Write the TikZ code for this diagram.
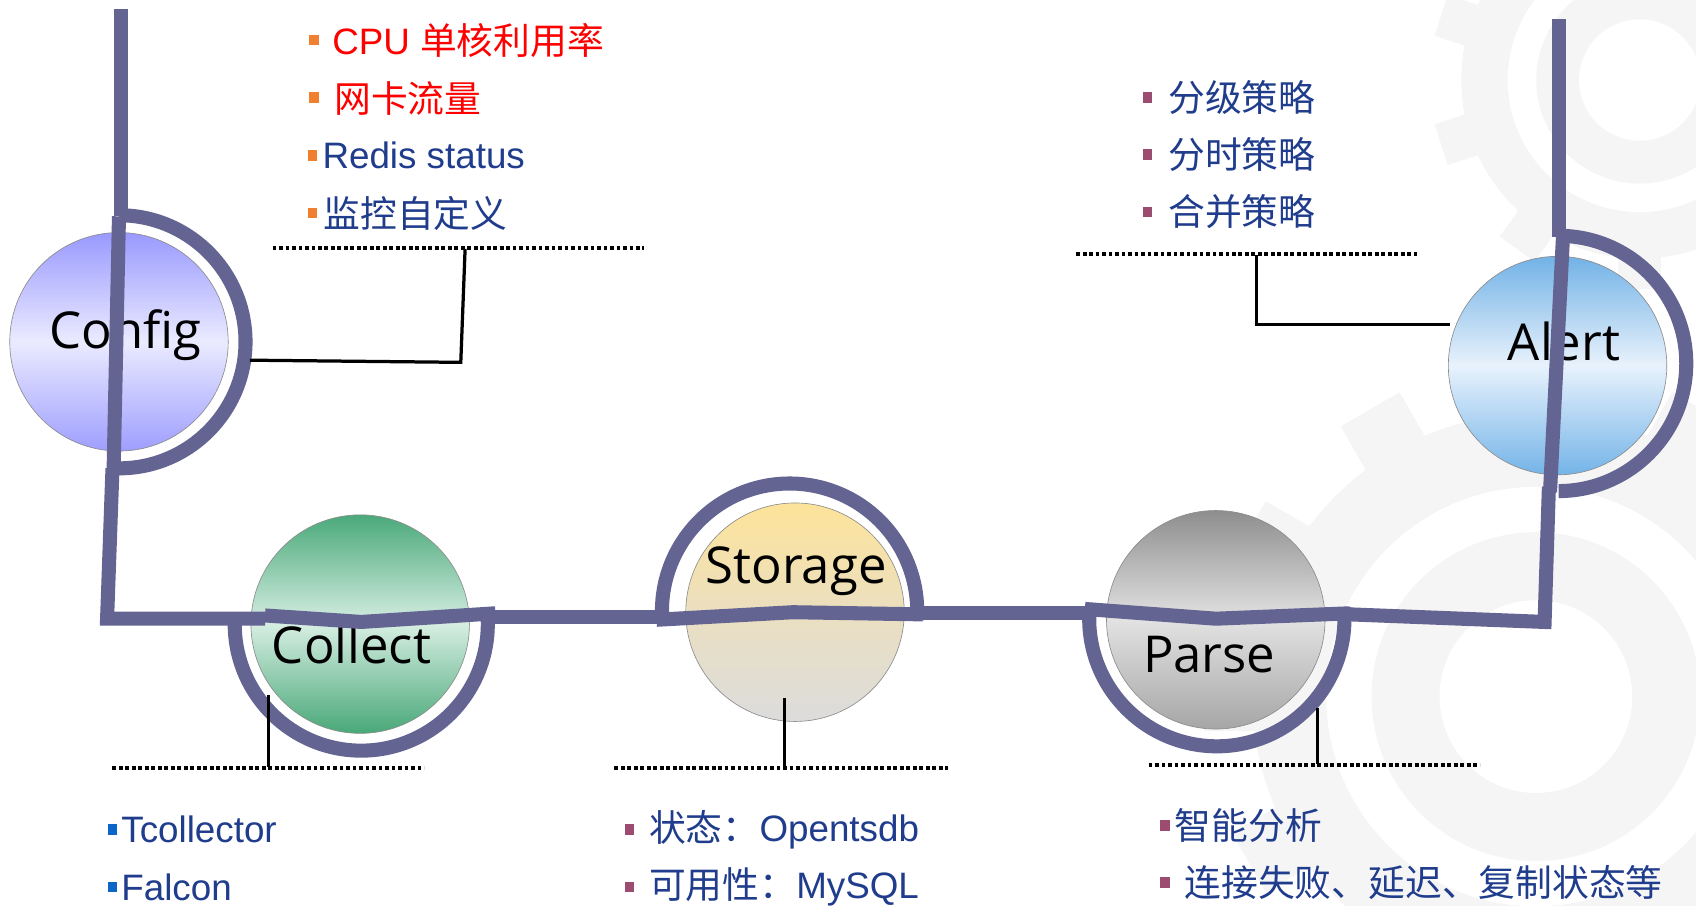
\documentclass[tikz,border=0pt]{standalone}
\usepackage{fontspec}
\setmainfont{Liberation Sans}
\newfontfamily\cjk{Noto Sans CJK SC}
\newfontfamily\lab{Open Sans}
\newfontfamily\lat{Liberation Sans}
\definecolor{pipec}{HTML}{646492}
\definecolor{txtblue}{HTML}{203C8C}
\definecolor{bulor}{HTML}{F0802F}
\definecolor{bulpu}{HTML}{9C4C70}
\definecolor{bulbl}{HTML}{0C66C8}
\definecolor{gearc}{HTML}{F5F5F5}
\newcommand\mygear[3]{%
\begin{scope}[shift={#1}]
 \fill[gearc] (0,0) circle[radius=#2];
 \foreach \k in {1,...,#3}{\fill[gearc, rotate=360/#3*\k] (-0.12*#2,#2-4) rectangle (0.12*#2,1.17*#2);}
 \fill[white] (0,0) circle[radius=0.74*#2];
 \fill[gearc] (0,0) circle[radius=0.58*#2];
 \fill[white] (0,0) circle[radius=0.34*#2];
\end{scope}}
\begin{document}
\begin{tikzpicture}[x=1pt,y=-1pt,
  ball/.style={circle, minimum size=202pt, inner sep=0pt, draw=black!45, line width=0.6pt},
  lbl/.style={font=\lab\fontsize{47}{50}\selectfont, anchor=base, inner sep=0pt},
  item/.style={anchor=west, inner sep=0pt, font=\fontsize{34}{38}\selectfont, text=txtblue},
  bul/.style={minimum width=9pt, minimum height=10pt, inner sep=0pt},
  pipeline/.style={draw=pipec, line width=13pt, line join=miter},
  dots/.style={draw=black, line width=3.5pt, dash pattern=on 3.5pt off 2.5pt},
  conn/.style={draw=black, line width=3pt}]
\path[use as bounding box, fill=white] (0,0) rectangle (1568,837);
% background gears
\mygear{(1516,74)}{165}{10}
\mygear{(1420,644)}{262}{12}
% circles
\node[ball, top color=blue!40!white, bottom color=blue!38!white, middle color=blue!8!white] (config) at (110,316) {};
\node[ball, top color={rgb,255:red,74;green,169;blue,122}, bottom color={rgb,255:red,72;green,168;blue,120}, middle color={rgb,255:red,214;green,238;blue,226}] (collect) at (333,577) {};
\node[ball, top color={rgb,255:red,253;green,227;blue,154}, bottom color={rgb,255:red,220;green,220;blue,220}, middle color={rgb,255:red,235;green,223;blue,192}] (storage) at (735,566) {};
\node[ball, top color={rgb,255:red,142;green,142;blue,142}, bottom color={rgb,255:red,166;green,166;blue,166}, middle color={rgb,255:red,226;green,226;blue,226}] (parse) at (1124,573) {};
\node[ball, top color={rgb,255:red,114;green,178;blue,230}, bottom color={rgb,255:red,116;green,180;blue,232}, middle color={rgb,255:red,232;green,242;blue,252}] (alert) at (1440,338) {};
% labels
\node[lbl] (lconfig) at (116,322) {Config};
\node[lbl] (lcollect) at (325,613) {Collect};
\node[lbl] (lstorage) at (736,539) {Storage};
\node[lbl] (lparse) at (1118,622) {Parse};
\node[lbl] (lalert) at (1446,333) {Alert};
% main thick line
\draw[pipeline] (112,8) -- (112,200);
\draw[pipeline] (110,199) arc[start angle=-90, end angle=90, radius=117];
\draw[pipeline] (110,200) -- (105,436);
\draw[pipeline] (104,433) -- (99,572) -- (245,572);
\draw[pipeline] (245,569) -- (334,575) -- (458,567);
\draw[pipeline] ([shift={(184:117)}]334,577) arc[start angle=184, end angle=-4, radius=117];
\draw[pipeline] (458,570) -- (607,570);
\draw[pipeline] (607,573) -- (733,566) -- (853,568);
\draw[pipeline] ([shift={(176:118)}]730,565) arc[start angle=176, end angle=364, radius=118];
\draw[pipeline] (853,567) -- (1003,567);
\draw[pipeline] (1003,563) -- (1124,572) -- (1248,567);
\draw[pipeline] ([shift={(185:118)}]1125,572) arc[start angle=185, end angle=-5, radius=118];
\draw[pipeline] (1248,568) -- (1428,575) -- (1432,450);
\draw[pipeline] (1441,218) arc[start angle=-90, end angle=90, radius=118];
\draw[pipeline] (1441,18) -- (1441,219);
\draw[pipeline] (1445,219) -- (1433,455);
% dotted rules
\coordinate (tla) at (252,229); \coordinate (tlb) at (595,229);
\coordinate (tra) at (995,235); \coordinate (trb) at (1311,235);
\coordinate (bla) at (104,710); \coordinate (blb) at (392,710);
\coordinate (bma) at (568,710); \coordinate (bmb) at (876,710);
\coordinate (bra) at (1062,707); \coordinate (brb) at (1368,707);
\draw[dots] (tla) -- (tlb);
\draw[dots] (tra) -- (trb);
\draw[dots] (bla) -- (blb);
\draw[dots] (bma) -- (bmb);
\draw[dots] (bra) -- (brb);
% connectors
\coordinate (ctl) at (430,230); \coordinate (ctlc) at (426,335); \coordinate (ctle) at (231,333);
\draw[conn] (ctl) -- (ctlc) -- (ctle);
\coordinate (ctr) at (1162,236); \coordinate (ctrc) at (1162,300); \coordinate (ctre) at (1341,300);
\draw[conn] (ctr) -- (ctrc) -- (ctre);
\coordinate (cbl) at (248,643); \coordinate (cble) at (248,709);
\draw[conn] (cbl) -- (cble);
\coordinate (cbm) at (725,645); \coordinate (cbme) at (725,709);
\draw[conn] (cbm) -- (cbme);
\coordinate (cbr) at (1218,655); \coordinate (cbre) at (1218,706);
\draw[conn] (cbr) -- (cbre);
% top-left list
\node[bul, fill=bulor] (b1) at (290,37) {};
\node[item, text=red] (t1) at (307,37) {\lat CPU \cjk 单核利用率};
\node[bul, fill=bulor] (b2) at (290,90) {};
\node[item, text=red] (t2) at (309,91) {\cjk 网卡流量};
\node[bul, fill=bulor] (b3) at (289,144) {};
\node[item] (t3) at (298,144) {\lat Redis status};
\node[bul, fill=bulor] (b4) at (289,197) {};
\node[item] (t4) at (299,197) {\cjk 监控自定义};
% top-right list
\node[bul, fill=bulpu] (b5) at (1061,90) {};
\node[item] (t5) at (1080,90) {\cjk 分级策略};
\node[bul, fill=bulpu] (b6) at (1061,143) {};
\node[item] (t6) at (1080,143) {\cjk 分时策略};
\node[bul, fill=bulpu] (b7) at (1061,196) {};
\node[item] (t7) at (1080,196) {\cjk 合并策略};
% bottom-left list
\node[bul, fill=bulbl, minimum width=8pt] (b8) at (104,767) {};
\node[item] (t8) at (112,767) {\lat Tcollector};
\node[bul, fill=bulbl, minimum width=8pt] (b9) at (104,820) {};
\node[item] (t9) at (112,820) {\lat Falcon};
% bottom-middle list
\node[bul, fill=bulpu] (b10) at (582,767) {};
\node[item] (t10) at (600,767) {\cjk 状态：\lat Opentsdb};
\node[bul, fill=bulpu] (b11) at (582,820) {};
\node[item] (t11) at (600,820) {\cjk 可用性：\lat MySQL};
% bottom-right list
\node[bul, fill=bulpu] (b12) at (1077,763) {};
\node[item] (t12) at (1086,763) {\cjk 智能分析};
\node[bul, fill=bulpu] (b13) at (1077,816) {};
\node[item] (t13) at (1095,816) {\cjk 连接失败、延迟、复制状态等};
\end{tikzpicture}
\end{document}
